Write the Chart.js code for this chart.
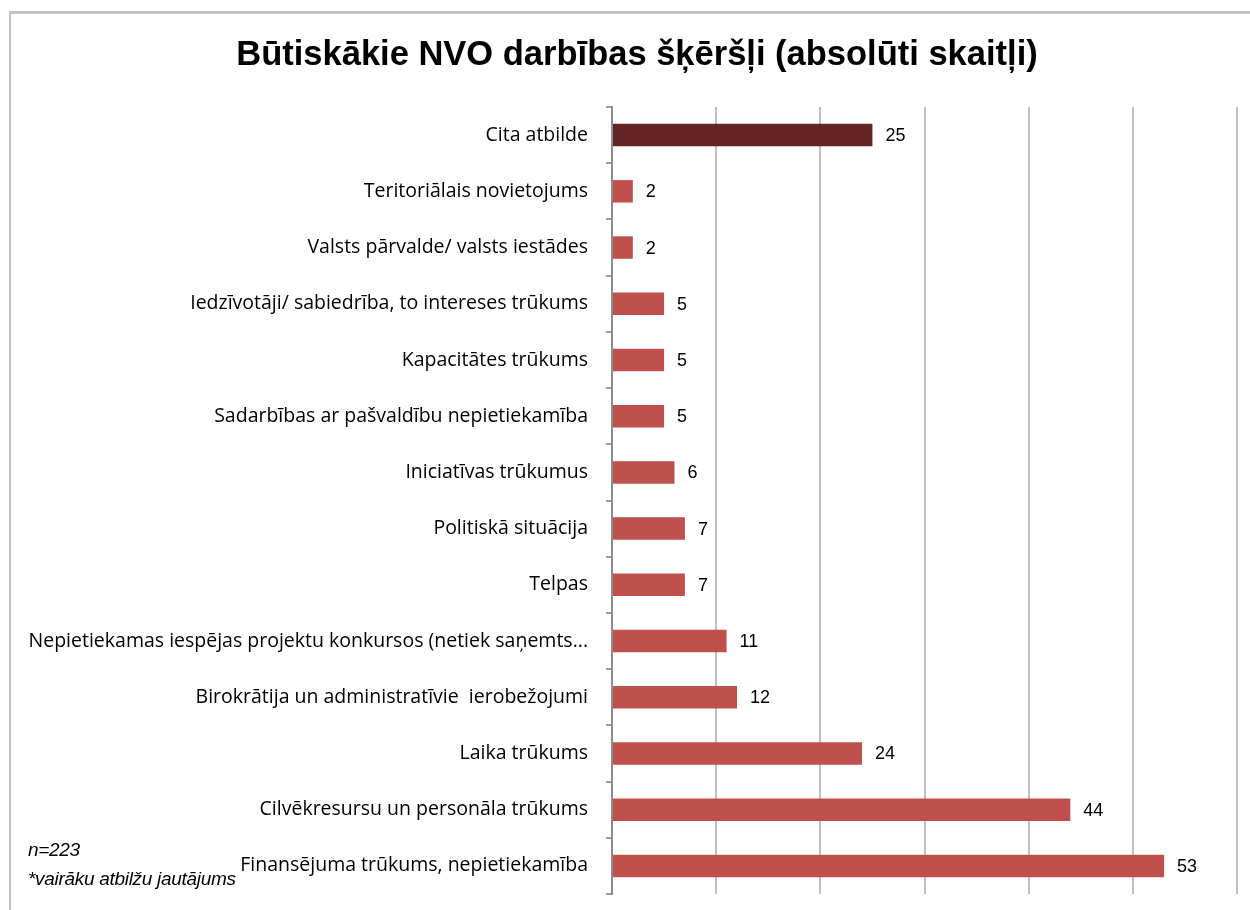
<!DOCTYPE html>
<html>
<head>
<meta charset="utf-8">
<script src="https://cdn.jsdelivr.net/npm/chart.js@4/dist/chart.umd.min.js"></script>
<style>
  html, body { margin: 0; padding: 0; background: #fff; }
  #wrap { position: relative; width: 1250px; height: 910px; overflow: hidden; }
  #frame { position: absolute; left: 9px; top: 11px; width: 1300px; height: 1000px;
           border-left: 2px solid #c4c4c4; border-top: 3px solid #c4c4c4; }
  #box { position: absolute; left: 0; top: 0; width: 1250px; height: 910px; }
  .note { position: absolute; left: 28px; font-family: "Liberation Sans", Arial, sans-serif;
          font-style: italic; font-size: 19px; color: #000; letter-spacing: -0.3px; }
</style>
</head>
<body>
<div id="wrap">
  <div id="frame"></div>
  <div id="box"><canvas id="chart"></canvas></div>
  <div class="note" style="top:839px">n=223</div>
  <div class="note" style="top:868px">*vairāku atbilžu jautājums</div>
</div>
<script>
const chartTitle = "Būtiskākie NVO darbības šķēršļi (absolūti skaitļi)";
const categories = [
  "Cita atbilde",
  "Teritoriālais novietojums",
  "Valsts pārvalde/ valsts iestādes",
  "Iedzīvotāji/ sabiedrība, to intereses trūkums",
  "Kapacitātes trūkums",
  "Sadarbības ar pašvaldību nepietiekamība",
  "Iniciatīvas trūkumus",
  "Politiskā situācija",
  "Telpas",
  "Nepietiekamas iespējas projektu konkursos (netiek saņemts...",
  "Birokrātija un administratīvie  ierobežojumi",
  "Laika trūkums",
  "Cilvēkresursu un personāla trūkums",
  "Finansējuma trūkums, nepietiekamība"
];
const values = [25, 2, 2, 5, 5, 5, 6, 7, 7, 11, 12, 24, 44, 53];
const barColors = categories.map((c, i) => i === 0 ? "#632523" : "#c0504d");

// title drawn by hand so it can sit a bit right of canvas centre, like the original
const titlePlugin = {
  id: "titlePlugin",
  afterDraw(chart) {
    const ctx = chart.ctx;
    ctx.save();
    ctx.font = "bold 34.5px 'Liberation Sans', Arial, sans-serif";
    ctx.fillStyle = "#000";
    ctx.textAlign = "center";
    ctx.textBaseline = "middle";
    ctx.fillText(chartTitle, 637, 55);
    ctx.restore();
  }
};

const valueLabels = {
  id: "valueLabels",
  afterDatasetsDraw(chart) {
    const ctx = chart.ctx;
    const meta = chart.getDatasetMeta(0);
    ctx.save();
    ctx.font = "18px 'Liberation Sans', Arial, sans-serif";
    ctx.fillStyle = "#000";
    ctx.textAlign = "left";
    ctx.textBaseline = "middle";
    meta.data.forEach((bar, i) => {
      ctx.fillText(values[i], bar.x + 13, bar.y + 1);
    });
    ctx.restore();
  }
};

new Chart(document.getElementById("chart"), {
  type: "bar",
  data: {
    labels: categories,
    datasets: [{
      data: values,
      backgroundColor: barColors,
      barPercentage: 0.4,
      categoryPercentage: 1
    }]
  },
  options: {
    indexAxis: "y",
    responsive: true,
    maintainAspectRatio: false,
    animation: false,
    layout: { padding: { left: 0, right: 13, top: 107, bottom: 0 } },
    plugins: {
      legend: { display: false },
      tooltip: { enabled: false },
      title: { display: false }
    },
    scales: {
      x: {
        min: 0,
        max: 60,
        ticks: { display: false, stepSize: 10 },
        grid: { color: "#bfbfbf", lineWidth: 2, drawTicks: false },
        border: { display: false },
        afterFit(scale) { scale.height = 16; }
      },
      y: {
        ticks: {
          color: "#000",
          padding: 18,
          autoSkip: false,
          font: { family: "'Open Sans', sans-serif", size: 19.5 }
        },
        grid: { drawOnChartArea: false, tickLength: 6, color: "#9a9a9a", lineWidth: 2, offset: true },
        border: { color: "#8c8c8c", width: 2 },
        afterFit(scale) {
          scale.width = 612;
          scale.paddingTop = 0;
          scale.paddingBottom = 0;
        }
      }
    }
  },
  plugins: [valueLabels, titlePlugin]
});
</script>
</body>
</html>
